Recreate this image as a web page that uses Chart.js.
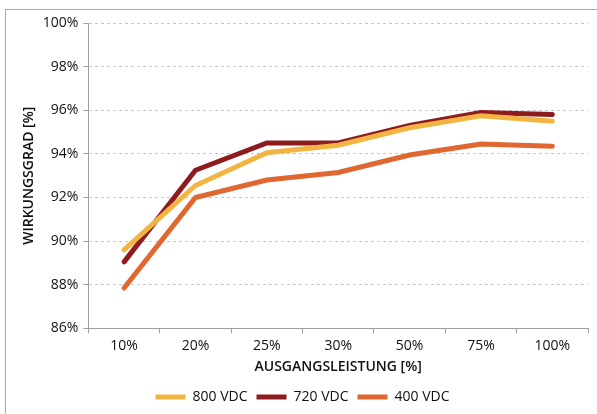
<!DOCTYPE html>
<html>
<head>
<meta charset="utf-8">
<script src="https://cdn.jsdelivr.net/npm/chart.js@4"></script>
<style>
  html, body { margin: 0; padding: 0; background: #fff; }
  #frame { position: absolute; left: 5px; top: 9px; width: 640px; height: 460px; border: 1px solid #a8a8a8; }
  #wrap { position: absolute; left: 0; top: 0; width: 597px; height: 414px; }
</style>
</head>
<body>
<div id="frame"></div>
<div id="wrap"><canvas id="chartWirkungsgrad"></canvas></div>
<script>
// Daten
const kategorien = ['10%', '20%', '25%', '30%', '50%', '75%', '100%'];
const werte800 = [89.6, 92.55, 94.05, 94.4, 95.2, 95.75, 95.5];
const werte720 = [89.05, 93.25, 94.5, 94.5, 95.3, 95.9, 95.8];
const werte400 = [87.85, 92.0, 92.8, 93.15, 93.95, 94.45, 94.35];

const farben = { v800: '#f2b544', v720: '#8e1c1f', v400: '#e0672f' };
const schrift = "'Open Sans', sans-serif";

const ctx = document.getElementById('chartWirkungsgrad').getContext('2d');
const chart = new Chart(ctx, {
    type: 'line',
    data: {
        labels: kategorien,
        datasets: [
            { label: '800 VDC', data: werte800, borderColor: farben.v800, backgroundColor: farben.v800, borderWidth: 5 },
            { label: '720 VDC', data: werte720, borderColor: farben.v720, backgroundColor: farben.v720, borderWidth: 5 },
            { label: '400 VDC', data: werte400, borderColor: farben.v400, backgroundColor: farben.v400, borderWidth: 5 }
        ]
    },
    options: {
        responsive: true,
        maintainAspectRatio: false,
        animation: false,
        elements: { point: { radius: 0 }, line: { tension: 0, borderCapStyle: 'round' } },
        layout: { padding: { left: 17, right: 9, top: 23, bottom: 0 } },
        plugins: {
            tooltip: { enabled: false },
            legend: {
                position: 'bottom',
                labels: {
                    usePointStyle: true,
                    pointStyle: 'line',
                    pointStyleWidth: 30,
                    padding: 9,
                    color: '#111',
                    font: { family: schrift, size: 14 }
                }
            }
        },
        scales: {
            x: {
                offset: true,
                grid: { display: true, drawOnChartArea: false, offset: true, color: '#a0a0a0', tickLength: 5 },
                border: { color: '#a0a0a0' },
                ticks: { color: '#111', font: { family: schrift, size: 14 }, padding: 4 },
                title: { display: true, text: 'AUSGANGSLEISTUNG [%]', color: '#111', font: { family: schrift, size: 14, weight: '600' }, padding: { top: 0, bottom: 6 } }
            },
            y: {
                min: 86,
                max: 100,
                ticks: { stepSize: 2, color: '#111', font: { family: schrift, size: 14 }, padding: 5, callback: v => v + '%' },
                grid: { color: '#c8c8c8', tickColor: '#a0a0a0', tickLength: 5, tickBorderDash: [] },
                border: { color: '#a0a0a0', dash: [3, 3] },
                title: { display: true, text: 'WIRKUNGSGRAD [%]', color: '#111', font: { family: schrift, size: 14, weight: '600' }, padding: { bottom: 0 } }
            }
        }
    }
});
</script>
</body>
</html>
